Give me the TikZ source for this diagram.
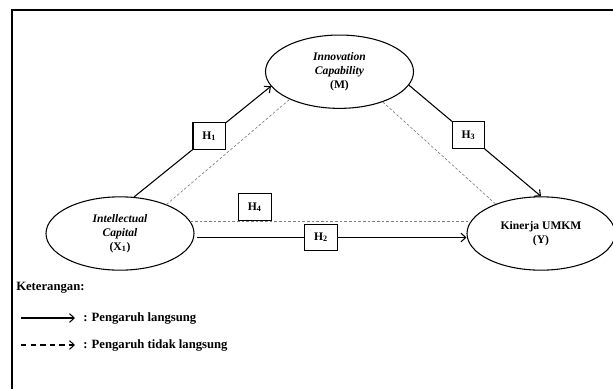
\documentclass[tikz,border=0pt]{standalone}
\usepackage{fontspec}
\setmainfont{Liberation Serif}
\usetikzlibrary{shapes.geometric,arrows.meta}
\tikzset{
    var/.style={ellipse, draw, line width=0.8pt, minimum width=111pt, minimum height=55pt, inner sep=0pt, align=center, font=\fontsize{8.7}{10.5}\selectfont\bfseries},
    hyp/.style={draw=black, text=black, solid, line width=0.8pt, fill=white, minimum width=24.5pt, minimum height=20pt, inner sep=0pt, font=\fontsize{8.7}{10.5}\selectfont\bfseries},
    effect/.style={line width=0.8pt, -{Straight Barb[length=3.5pt,width=6.5pt]}},
    indirect/.style={gray, line width=0.5pt, dash pattern=on 2pt off 1.5pt},
    legend/.style={inner sep=0pt, anchor=west, font=\fontsize{9.5}{11}\selectfont\bfseries},
}
\begin{document}
\begin{tikzpicture}[x=0.75pt, y=-0.75pt]
    \useasboundingbox (0,0) rectangle (613,389);
    \clip (0,0) rectangle (613,389);
    \draw[line width=1.5pt] (12,389) -- (12,10) -- (613,10);

    \node[var] (M) at (339.5,71.7) {\textit{Innovation}\\\textit{Capability}\\(M)};
    \node[var] (X) at (120,233.5) {\textit{Intellectual}\\\textit{Capital}\\(X\textsubscript{1})};
    \node[var] (Y) at (541,233.5) {Kinerja UMKM\\(Y)};

    % Indirect paths
    \draw[indirect] (X.32) -- (M.209);
    \draw[indirect] (M.-35) -- (Y.147);
    \draw[indirect] (X.10) -- node[hyp, above, pos=0.23] (h4) {H\textsubscript{4}} (Y.170);

    % Direct paths
    \draw[effect] (X.69) -- node[hyp, pos=0.55] (h1) {H\textsubscript{1}} (M.192);
    \draw[effect] (M.-11) -- node[hyp, pos=0.45] (h3) {H\textsubscript{3}} (Y.90);
    \draw[effect] ([xshift=2pt,yshift=-3pt]X.east) -- node[hyp, pos=0.46] (h2) {H\textsubscript{2}} ([yshift=-3pt]Y.west);

    % Legend
    \node[legend] (key) at (16,288) {Keterangan:};
    \coordinate (sl) at (21,318);
    \node[legend] (sr) at (83,318) {: Pengaruh langsung};
    \draw[effect] (sl) -- ([xshift=-6pt]sr.west);
    \coordinate (dl) at (21,345);
    \node[legend] (dr) at (83,345) {: Pengaruh tidak langsung};
    \draw[effect, dash pattern=on 4pt off 3.2pt] (dl) -- ([xshift=-6pt]dr.west);
\end{tikzpicture}
\end{document}
